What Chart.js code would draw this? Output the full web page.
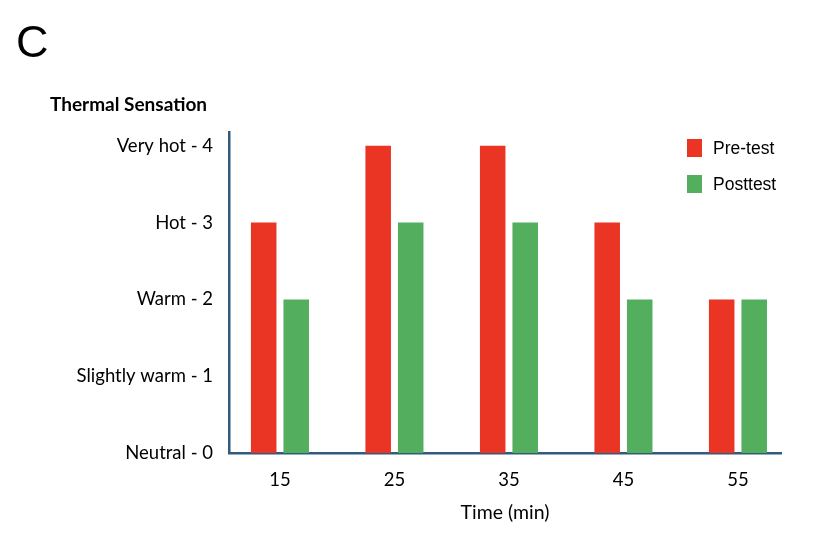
<!DOCTYPE html>
<html><head><meta charset="utf-8">
<script src="https://cdn.jsdelivr.net/npm/chart.js@4"></script>
<style>html,body{margin:0;padding:0;background:#fff}#wrap{width:819px;height:545px}</style>
</head><body><div id="wrap"><canvas id="c" width="819" height="545"></canvas></div>
<script>
const panelLabel = 'C';
const yAxisTitle = 'Thermal Sensation';
const xAxisTitle = 'Time (min)';
const times = [15, 25, 35, 45, 55];
const preTest = [3, 4, 4, 3, 2];
const postTest = [2, 3, 3, 2, 2];
const sensationTicks = [0, 1, 2, 3, 4];
const sensationLabels = ['Neutral - 0', 'Slightly warm - 1', 'Warm - 2', 'Hot - 3', 'Very hot - 4'];
const seriesNames = ['Pre-test', 'Posttest'];
const seriesColors = ['#EA3424', '#53AE5E'];
const axisColor = '#315B7D';

const tickFont = {family: 'Lato', size: 18.5};

const overlay = {
  id: 'overlay',
  afterDraw(chart) {
    const c = chart.ctx;
    c.save();
    c.fillStyle = '#000';
    c.textBaseline = 'alphabetic';
    c.textAlign = 'left';
    c.font = '45px "Liberation Sans"';
    c.fillText(panelLabel, 16, 57);
    c.font = 'bold 19px Lato';
    c.fillText(yAxisTitle, 50, 111);
    chart.data.datasets.forEach((ds, i) => {
      const y = 139 + i * 36;
      c.fillStyle = ds.backgroundColor;
      c.fillRect(687, y, 15, 18);
      c.fillStyle = '#000';
      c.font = '17.5px "Liberation Sans"';
      c.textBaseline = 'middle';
      c.fillText(ds.label, 713, y + 10);
    });
    c.restore();
  }
};

new Chart(document.getElementById('c'), {
  type: 'bar',
  data: {
    datasets: [
      {label: seriesNames[0], data: times.map((t, i) => ({x: t, y: preTest[i]})), backgroundColor: seriesColors[0]},
      {label: seriesNames[1], data: times.map((t, i) => ({x: t, y: postTest[i]})), backgroundColor: seriesColors[1]}
    ]
  },
  options: {
    responsive: false,
    animation: false,
    layout: {padding: {left: 0, right: 38, top: 132, bottom: 0}},
    categoryPercentage: 0.568,
    barPercentage: 0.785,
    scales: {
      x: {
        type: 'linear', min: 10.55, max: 58.76, offset: false,
        afterBuildTicks: s => { s.ticks = times.map(v => ({value: v})); },
        afterFit: s => { s.height = 92; },
        grid: {display: false, drawTicks: false},
        border: {display: true, color: axisColor, width: 2.5},
        ticks: {padding: 16, font: tickFont, color: '#000', callback: v => String(v)},
        title: {display: true, text: xAxisTitle, font: {family: 'Lato', size: 19.5}, color: '#000', padding: {top: 4, bottom: 21}}
      },
      y: {
        min: 0, max: 4.18,
        afterBuildTicks: s => { s.ticks = sensationTicks.map(v => ({value: v})); },
        afterFit: s => { s.width = 229; },
        grid: {display: false, drawTicks: false},
        border: {display: true, color: axisColor, width: 2.5},
        ticks: {padding: 16, font: tickFont, color: '#000', callback: v => sensationLabels[sensationTicks.indexOf(v)]}
      }
    },
    plugins: {legend: {display: false}, tooltip: {enabled: false}, title: {display: false}}
  },
  plugins: [overlay]
});
</script>
</body></html>
